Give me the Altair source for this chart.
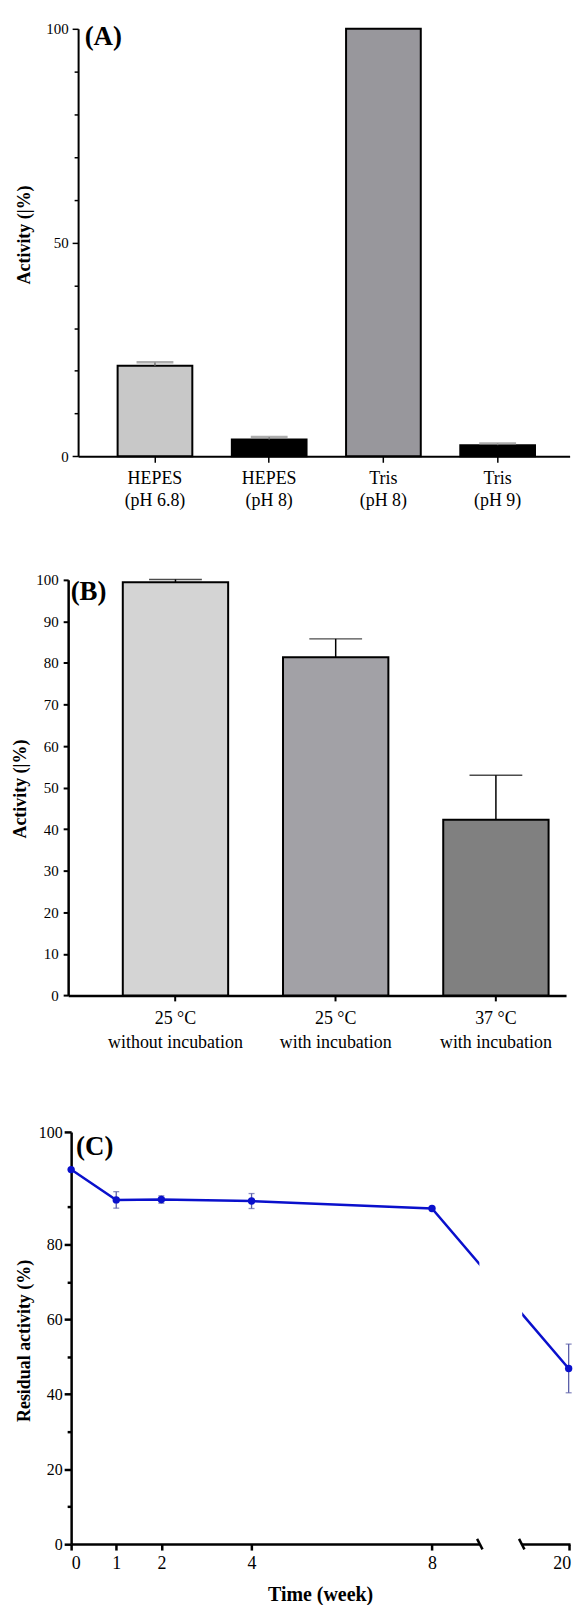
import altair as alt
import pandas as pd

FONT = "Liberation Serif"

# ---------------- data ----------------
# Panel A
a_buffers = ["HEPES\n(pH 6.8)", "HEPES\n(pH 8)", "Tris\n(pH 8)", "Tris\n(pH 9)"]
a_activity = [21.2, 3.9, 100.0, 2.6]
a_error = [0.8, 0.6, 0.0, 0.4]

# Panel B
b_conditions = ["25 °C\nwithout incubation", "25 °C\nwith incubation", "37 °C\nwith incubation"]
b_activity = [99.4, 81.4, 42.3]
b_error = [0.7, 4.4, 10.7]

# Panel C
c_weeks = [0, 1, 2, 4, 8, 20]
c_residual = [100.0, 91.9, 92.0, 91.6, 89.6, 46.9]
c_error = [0.0, 2.2, 1.0, 2.0, 0.5, 6.5]

# ---------------- styles ----------------
A_COLORS = ["#c8c8c8", "#000000", "#98979c", "#000000"]
B_COLORS = ["#d4d4d4", "#a2a1a6", "#808080"]
BLUE = "#0a10cc"
ERR_BLUE = "#5a5ea8"

# broken x axis of panel C (weeks)
BREAK_FROM = 9.07
BREAK_TO = 18.94
GAP = 0.9
SHIFT = BREAK_TO - BREAK_FROM - GAP


def to_pos(w):
    return w if w <= BREAK_FROM else w - SHIFT


def label_chart(text, x, y):
    return alt.Chart(pd.DataFrame({"t": [text]})).mark_text(
        font=FONT, fontSize=27, fontWeight="bold", align="left",
        baseline="middle", color="black"
    ).encode(text="t:N", x=alt.value(x), y=alt.value(y))


AX = dict(labelFont=FONT, titleFont=FONT, labelColor="black", titleColor="black",
          domainColor="black", tickColor="black", grid=False)

# ---------------- panel A ----------------
dfA = pd.DataFrame({"buffer": a_buffers, "activity": a_activity, "err": a_error})
dfA["upper"] = dfA["activity"] + dfA["err"]

xA = alt.X(
    "buffer:N", sort=a_buffers, title=None,
    scale=alt.Scale(range=[10, 503.6], paddingInner=0.346, paddingOuter=0.3245, align=0.533),
    axis=alt.Axis(labelExpr="split(datum.label, '\\n')", labelAngle=0, labelFontSize=18,
                  labelBaseline="top", labelAlign="center",
                  labelLineHeight=22, labelPadding=7, tickSize=6, tickWidth=1.5,
                  domainWidth=2, **AX),
)
yA_axis = alt.Axis(
    values=list(range(0, 101, 10)),
    labelExpr="datum.value % 50 === 0 ? datum.label : ''",
    title="Activity (|%)", titleX=-54, titleY=206.5, titleAngle=270,
    titleBaseline="middle", titleAlign="center", titleFontSize=18, titleFontWeight="bold",
    offset=-10, labelFontSize=15, labelPadding=4,
    tickSize={"condition": {"test": "datum.value % 50 === 0", "value": 6}, "value": 4},
    tickWidth=1.5, domainWidth=2, **AX,
)
baseA = alt.Chart(dfA)
barsA = baseA.mark_bar(stroke="black", strokeWidth=2).encode(
    x=xA,
    y=alt.Y("activity:Q", scale=alt.Scale(domain=[0, 100], nice=False), axis=yA_axis),
    color=alt.Color("buffer:N", scale=alt.Scale(domain=a_buffers, range=A_COLORS), legend=None),
)
errA = baseA.transform_filter("datum.err > 0").mark_rule(color="#6e6e6e", strokeWidth=1.5).encode(
    x=alt.X("buffer:N", sort=a_buffers), y="activity:Q", y2="upper:Q")
capA = baseA.transform_filter("datum.err > 0").mark_tick(
    color="#8a8a8a", thickness=2.5, size=37, orient="horizontal").encode(
    x=alt.X("buffer:N", sort=a_buffers), y="upper:Q")
A = alt.layer(barsA, errA, capA, label_chart("(A)", 16.6, 8.5)).properties(width=504, height=429.3)

# ---------------- panel B ----------------
dfB = pd.DataFrame({"cond": b_conditions, "activity": b_activity, "err": b_error})
dfB["upper"] = dfB["activity"] + dfB["err"]

xB = alt.X(
    "cond:N", sort=b_conditions, title=None,
    scale=alt.Scale(range=[0, 500], paddingInner=0.3424, paddingOuter=0.225, align=0.758),
    axis=alt.Axis(labelExpr="split(datum.label, '\\n')", labelAngle=0, labelFontSize=18,
                  labelBaseline="top", labelAlign="center",
                  labelLineHeight=23.4, labelPadding=9, tickSize=5.5, tickWidth=2,
                  domainWidth=2.5, **AX),
)
yB_axis = alt.Axis(
    values=list(range(0, 101, 10)),
    title="Activity (|%)", titleX=-47.6, titleY=209.6, titleAngle=270,
    titleBaseline="middle", titleAlign="center", titleFontSize=18, titleFontWeight="bold",
    labelFontSize=15, labelPadding=5, tickSize=5, tickWidth=2, domainWidth=2.5, **AX,
)
baseB = alt.Chart(dfB)
barsB = baseB.mark_bar(stroke="black", strokeWidth=2).encode(
    x=xB,
    y=alt.Y("activity:Q", scale=alt.Scale(domain=[0, 100], nice=False), axis=yB_axis),
    color=alt.Color("cond:N", scale=alt.Scale(domain=b_conditions, range=B_COLORS), legend=None),
)
errB = baseB.mark_rule(color="black", strokeWidth=1.5).encode(
    x=alt.X("cond:N", sort=b_conditions), y="activity:Q", y2="upper:Q")
capB = baseB.mark_tick(color="black", thickness=1.5, size=53, orient="horizontal").encode(
    x=alt.X("cond:N", sort=b_conditions), y="upper:Q")
B = alt.layer(errB, barsB, capB, label_chart("(B)", 2.5, 12.3)).properties(width=500, height=417.3)

# ---------------- panel C ----------------
dfC = pd.DataFrame({"week": c_weeks, "residual": c_residual, "err": c_error})
dfC["pos"] = [to_pos(w) for w in c_weeks]
dfC["lo"] = dfC["residual"] - dfC["err"]
dfC["hi"] = dfC["residual"] + dfC["err"]

x_end = to_pos(max(c_weeks)) + 0.03
xC_scale = alt.Scale(domain=[0, x_end], range=[3, 504], nice=False, zero=False)
yC_scale = alt.Scale(domain=[0, 110], range=[426.9, 13.2], nice=False)

xC = alt.X(
    "pos:Q", scale=xC_scale, title="Time (week)",
    axis=alt.Axis(values=[to_pos(w) for w in c_weeks],
                  labelExpr=f"datum.value > {BREAK_FROM} ? format(datum.value + {SHIFT}, 'd') : datum.label",
                  labelOffset={"condition": {"test": f"datum.value > {BREAK_FROM}", "value": -7}, "value": 0},
                  labelFontSize=18, labelPadding=5, tickSize=6, tickWidth=2.5, domainWidth=2.5,
                  titleFontSize=20, titleFontWeight="bold", titleX=253, titleY=50.7,
                  titleBaseline="middle", titleAlign="center", **AX),
)
yC = alt.Y(
    "residual:Q", scale=yC_scale, title="Residual activity (%)",
    axis=alt.Axis(values=list(range(0, 91, 10)) + [110],
                  labelExpr="datum.value == 110 ? '100' : (datum.value % 20 == 0 ? datum.label : '')",
                  labelFontSize=16, labelPadding=2,
                  tickSize={"condition": {"test": "datum.value % 20 === 10 && datum.value < 100", "value": 4}, "value": 7},
                  tickWidth=2.5, domainWidth=2.5,
                  offset=-3, titleX=-47, titleY=222.4, titleAngle=270, titleBaseline="middle",
                  titleAlign="center", titleFontSize=18, titleFontWeight="bold", **AX),
)
baseC = alt.Chart(dfC)
lineC = baseC.mark_line(color=BLUE, strokeWidth=2.5).encode(x=xC, y=yC)

mask_df = pd.DataFrame({"x1": [BREAK_FROM - 0.02], "x2": [BREAK_FROM + GAP + 0.03],
                        "y1": [-1.0], "y2": [110.0]})
maskC = alt.Chart(mask_df).mark_rect(fill="white").encode(
    x=alt.X("x1:Q", scale=xC_scale), x2="x2:Q",
    y=alt.Y("y1:Q", scale=yC_scale), y2="y2:Q")

slash_df = pd.DataFrame({
    "x1": [BREAK_FROM - 0.07, BREAK_FROM + GAP - 0.04],
    "x2": [BREAK_FROM + 0.05, BREAK_FROM + GAP + 0.08],
    "y1": [1.4, 1.4], "y2": [-1.4, -1.4]})
slashC = alt.Chart(slash_df).mark_rule(color="black", strokeWidth=2.5).encode(
    x=alt.X("x1:Q", scale=xC_scale), x2="x2:Q",
    y=alt.Y("y1:Q", scale=yC_scale), y2="y2:Q")

errC = baseC.transform_filter("datum.err > 0").mark_rule(color=ERR_BLUE, strokeWidth=1.3).encode(
    x=alt.X("pos:Q", scale=xC_scale), y=alt.Y("lo:Q", scale=yC_scale), y2="hi:Q")
capLoC = baseC.transform_filter("datum.err > 0").mark_tick(
    color=ERR_BLUE, thickness=1.3, size=6, orient="horizontal").encode(
    x=alt.X("pos:Q", scale=xC_scale), y=alt.Y("lo:Q", scale=yC_scale))
capHiC = baseC.transform_filter("datum.err > 0").mark_tick(
    color=ERR_BLUE, thickness=1.3, size=6, orient="horizontal").encode(
    x=alt.X("pos:Q", scale=xC_scale), y=alt.Y("hi:Q", scale=yC_scale))
ptsC = baseC.mark_circle(size=55, color=BLUE, opacity=1).encode(
    x=alt.X("pos:Q", scale=xC_scale), y=alt.Y("residual:Q", scale=yC_scale))

C = alt.layer(lineC, maskC, slashC, errC, capLoC, capHiC, ptsC,
              label_chart("(C)", 8, 28.6)).properties(width=504, height=426.9)

chart = alt.vconcat(
    A, B, C, spacing=123.4, bounds="flush",
    padding={"left": 3.4, "top": 10.5, "right": 0, "bottom": 0},
).resolve_scale(color="independent").configure_view(stroke=None)

chart.save("out.html", embed_options={"renderer": "svg", "actions": False})
